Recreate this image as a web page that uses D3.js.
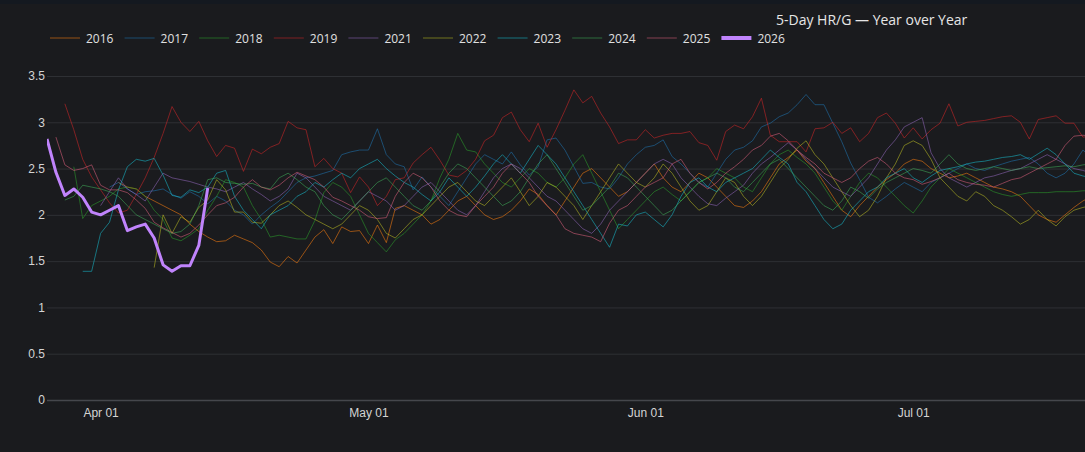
<!DOCTYPE html>
<html><head><meta charset="utf-8">
<script src="https://cdn.jsdelivr.net/npm/d3@7"></script>
<style>
html,body{margin:0;padding:0;background:#1a1b1e;overflow:hidden;}
svg{display:block;font-family:"Open Sans","Noto Sans",sans-serif;}
</style></head>
<body><svg id="chart" width="1085" height="452"></svg>
<script>
// ---- data ----
const years = ["2016","2017","2018","2019","2021","2022","2023","2024","2025","2026"];
const startDates = ["04-03","04-02","03-29","03-28","04-01","04-07","03-30","03-28","03-27","03-26"];
const colors = ["#ff7f0e","#1f77b4","#2ca02c","#d62728","#9467bd","#bcbd22","#17becf","#3fae5a","#e0607e","#c084fc"];
const yTicks = [0,0.5,1,1.5,2,2.5,3,3.5];
const xTickLabels = ["04-01","05-01","06-01","07-01"];

const hr2016 = [2.35,2.30,2.28,2.20,2.15,2.10,2.05,2.00,1.90,1.82,1.76,1.71,1.72,1.78,1.74,1.70,1.62,1.49,1.44,1.55,1.48,1.62,1.76,1.84,1.69,1.87,1.82,1.83,1.69,1.89,1.70,2.07,2.10,2.05,2.00,1.90,1.95,2.05,2.15,2.20,2.10,2.00,1.95,1.98,2.05,2.15,2.28,2.22,2.10,2.00,2.15,2.30,2.45,2.50,2.40,2.30,2.20,2.25,2.35,2.45,2.55,2.40,2.30,2.25,2.35,2.45,2.40,2.30,2.20,2.10,2.08,2.15,2.25,2.40,2.55,2.62,2.70,2.58,2.50,2.35,2.20,2.05,1.98,2.10,2.20,2.30,2.38,2.45,2.55,2.60,2.58,2.50,2.45,2.40,2.42,2.45,2.40,2.35,2.30,2.28,2.25,2.20,2.10,2.00,1.95,1.92,2.00,2.08,2.15,2.20];
const hr2017 = [2.30,2.35,2.28,2.22,2.25,2.26,2.28,2.22,2.18,2.25,2.20,2.12,2.20,2.15,2.05,2.00,1.90,2.00,2.08,2.15,2.25,2.35,2.40,2.42,2.45,2.48,2.65,2.68,2.70,2.70,2.93,2.65,2.55,2.52,2.27,2.41,2.30,2.20,2.10,2.25,2.40,2.55,2.65,2.60,2.55,2.68,2.54,2.43,2.52,2.81,2.83,2.70,2.52,2.34,2.35,2.30,2.28,2.40,2.55,2.65,2.73,2.75,2.81,2.63,2.55,2.45,2.35,2.30,2.45,2.60,2.70,2.73,2.80,2.95,2.99,3.06,3.10,3.19,3.30,3.19,3.19,2.99,2.79,2.56,2.38,2.19,2.13,2.20,2.28,2.35,2.30,2.25,2.35,2.40,2.45,2.50,2.55,2.50,2.48,2.52,2.55,2.58,2.60,2.62,2.55,2.45,2.40,2.45,2.55,2.70,2.62];
const hr2018 = [2.52,1.96,2.10,2.15,2.20,2.28,2.30,2.28,2.20,2.05,1.95,1.75,1.72,1.78,1.85,2.05,2.20,2.38,2.35,2.30,2.10,1.95,1.76,1.78,1.76,1.74,1.74,1.94,2.24,2.35,2.30,2.20,2.00,1.80,1.70,1.60,1.73,1.80,1.90,2.00,2.15,2.40,2.60,2.88,2.70,2.68,2.55,2.45,2.35,2.30,2.40,2.50,2.45,2.35,2.30,2.40,2.55,2.65,2.45,2.25,2.05,1.85,1.95,2.05,2.15,2.25,2.30,2.22,2.15,2.25,2.35,2.40,2.50,2.45,2.40,2.30,2.25,2.40,2.55,2.65,2.70,2.62,2.55,2.45,2.30,2.15,2.05,2.20,2.35,2.45,2.40,2.30,2.20,2.10,2.02,2.15,2.30,2.40,2.50,2.45,2.40,2.35,2.30,2.25,2.22,2.20,2.22,2.24,2.24,2.24,2.25,2.25,2.25,2.26,2.26];
const hr2019 = [3.20,2.92,2.60,2.41,2.27,2.13,2.02,2.05,2.22,2.40,2.62,2.88,3.17,3.00,2.90,3.01,2.80,2.63,2.75,2.72,2.47,2.71,2.66,2.73,2.77,3.01,2.94,2.92,2.52,2.61,2.50,2.45,2.24,2.41,2.30,2.10,2.20,2.38,2.40,2.56,2.65,2.73,2.59,2.43,2.41,2.48,2.60,2.80,2.86,3.05,3.11,2.92,2.79,2.99,2.73,2.92,3.13,3.35,3.21,3.28,3.10,2.95,2.77,2.81,2.81,2.92,2.83,2.86,2.88,2.88,2.90,2.78,2.75,2.59,2.90,2.97,2.93,3.06,3.26,2.86,2.79,2.79,2.79,2.68,2.93,2.94,3.00,2.88,2.94,2.79,2.88,3.05,3.10,2.99,2.83,2.94,2.82,2.92,2.99,3.20,2.96,3.00,3.01,3.02,3.04,3.06,3.07,3.00,2.82,3.03,3.05,3.07,2.99,2.99,2.84,2.85];
const hr2021 = [2.10,2.25,2.40,2.28,2.22,2.15,2.30,2.45,2.40,2.38,2.36,2.33,2.30,2.28,2.25,2.30,2.35,2.28,2.22,2.15,2.20,2.28,2.45,2.40,2.30,2.20,2.15,2.10,2.05,2.15,2.25,2.20,2.15,2.05,2.10,2.20,2.30,2.35,2.25,2.15,2.05,2.00,2.10,2.25,2.40,2.50,2.55,2.50,2.40,2.30,2.20,2.15,2.05,1.95,1.85,1.80,1.90,2.05,2.15,2.25,2.35,2.45,2.55,2.60,2.55,2.40,2.30,2.20,2.12,2.10,2.18,2.25,2.32,2.45,2.55,2.62,2.70,2.78,2.70,2.60,2.50,2.40,2.30,2.25,2.20,2.30,2.40,2.55,2.70,2.81,2.95,3.00,3.05,2.67,2.50,2.40,2.35,2.30,2.35,2.40,2.42,2.45,2.48,2.50,2.55,2.60,2.65,2.60,2.55,2.50,2.48,2.45];
const hr2022 = [1.43,2.00,1.80,1.98,1.92,2.08,2.16,2.38,2.27,2.03,2.03,1.92,1.91,2.00,2.10,2.15,2.08,2.00,1.95,1.90,1.85,1.90,2.00,2.10,2.05,1.95,1.80,1.75,1.85,1.95,2.00,2.10,2.20,2.30,2.35,2.25,2.15,2.10,2.20,2.30,2.40,2.25,2.10,2.20,2.35,2.30,2.20,2.10,1.95,2.10,2.25,2.40,2.55,2.45,2.35,2.30,2.40,2.55,2.45,2.30,2.15,2.05,2.10,2.25,2.40,2.35,2.20,2.10,2.20,2.35,2.50,2.60,2.72,2.80,2.65,2.55,2.40,2.25,2.10,1.98,2.05,2.20,2.40,2.55,2.75,2.80,2.75,2.60,2.40,2.30,2.20,2.15,2.25,2.20,2.10,2.05,1.98,1.90,1.95,2.05,1.95,1.88,1.98,2.05,2.08,2.10];
const hr2023 = [1.39,1.39,1.80,1.92,2.27,2.52,2.60,2.58,2.61,2.43,2.21,2.19,2.27,2.24,2.30,2.45,2.48,2.20,2.05,1.95,1.85,2.00,2.05,2.10,2.20,2.25,2.35,2.30,2.38,2.45,2.40,2.50,2.55,2.60,2.50,2.42,2.35,2.30,2.22,2.15,2.25,2.40,2.30,2.20,2.30,2.42,2.55,2.65,2.55,2.45,2.60,2.75,2.65,2.55,2.40,2.25,2.10,1.95,1.80,1.65,1.90,1.88,2.00,2.03,1.95,1.87,2.00,2.20,2.35,2.40,2.30,2.25,2.35,2.40,2.45,2.50,2.60,2.70,2.62,2.55,2.35,2.25,2.10,1.95,1.85,1.90,2.05,2.15,2.25,2.30,2.40,2.45,2.50,2.40,2.35,2.42,2.48,2.50,2.52,2.55,2.57,2.58,2.60,2.62,2.63,2.65,2.60,2.66,2.72,2.65,2.55,2.45,2.42,2.40];
const hr2024 = [2.16,2.20,2.32,2.30,2.28,2.25,2.20,2.10,2.00,1.95,1.90,1.85,1.80,1.82,1.90,2.10,2.38,2.40,2.35,2.34,2.33,2.34,2.30,2.28,2.40,2.45,2.38,2.30,2.25,2.10,2.00,1.95,2.05,2.15,2.25,2.35,2.40,2.30,2.20,2.10,2.05,2.15,2.30,2.45,2.55,2.50,2.40,2.30,2.20,2.10,2.15,2.25,2.40,2.55,2.65,2.50,2.35,2.20,2.05,2.10,2.20,2.30,2.45,2.40,2.30,2.20,2.10,2.00,2.05,2.15,2.25,2.35,2.40,2.45,2.40,2.30,2.25,2.35,2.45,2.55,2.60,2.50,2.40,2.30,2.20,2.10,2.05,2.15,2.30,2.25,2.18,2.28,2.35,2.40,2.45,2.50,2.48,2.45,2.55,2.65,2.55,2.50,2.48,2.50,2.52,2.50,2.48,2.50,2.52,2.50,2.51,2.52,2.53,2.52,2.54,2.55];
const hr2025 = [2.84,2.54,2.48,2.50,2.54,2.32,2.27,2.27,2.24,2.16,2.07,1.92,1.86,1.81,1.76,1.80,1.89,2.00,2.10,2.13,2.19,2.30,2.38,2.30,2.27,2.32,2.40,2.46,2.42,2.38,2.30,2.19,2.15,2.10,2.05,1.98,1.96,1.97,2.20,2.35,2.45,2.40,2.30,2.15,2.05,2.00,1.98,2.10,2.20,2.30,2.45,2.55,2.45,2.35,2.20,2.10,2.00,1.85,1.80,1.78,1.76,1.71,1.91,2.05,2.10,2.20,2.30,2.35,2.40,2.55,2.60,2.45,2.35,2.28,2.35,2.45,2.52,2.60,2.70,2.75,2.85,2.88,2.80,2.70,2.62,2.55,2.45,2.40,2.35,2.40,2.50,2.58,2.62,2.55,2.45,2.40,2.38,2.33,2.36,2.40,2.45,2.38,2.35,2.33,2.32,2.30,2.34,2.38,2.40,2.45,2.50,2.55,2.60,2.75,2.85,2.86,2.85];
const hr2026 = [2.82,2.46,2.21,2.28,2.19,2.03,2.00,2.05,2.10,1.83,1.87,1.90,1.75,1.46,1.39,1.45,1.45,1.67,2.29];

const seriesValues = [hr2016,hr2017,hr2018,hr2019,hr2021,hr2022,hr2023,hr2024,hr2025,hr2026];

// ---- layout ----
const W = 1085, H = 452;
const plotLeft = 47, plotBottom = 400;
const baseYear = 2026;
const parse = s => new Date(Date.UTC(baseYear, +s.slice(0,2)-1, +s.slice(3,5)));
const dayMs = 86400000;
const x0 = parse("03-26"), x1 = parse("09-28");
const pxPerDay = 8.93;
const plotRight = plotLeft + (x1 - x0)/dayMs * pxPerDay;

const x = d3.scaleUtc().domain([x0, x1]).range([plotLeft, plotRight]);
const y = d3.scaleLinear().domain([0, 3.5]).range([plotBottom, 76]);

const svg = d3.select("#chart");
svg.append("rect").attr("width", W).attr("height", H).attr("fill", "#1a1b1e");
svg.append("rect").attr("width", W).attr("height", 4).attr("fill", "#141920");

svg.append("defs").append("clipPath").attr("id","clip")
  .append("rect").attr("x", plotLeft).attr("y", 0).attr("width", plotRight-plotLeft).attr("height", plotBottom+2);

// grid + y axis
const yAxis = d3.axisLeft(y).tickValues(yTicks).tickSize(-(plotRight-plotLeft)).tickPadding(6)
  .tickFormat(d => d3.format("")(d));
const gy = svg.append("g").attr("transform", `translate(${plotLeft},0)`).call(yAxis);
gy.select(".domain").remove();
gy.selectAll(".tick line").attr("stroke", "#2e3034").attr("stroke-width", 1);
gy.selectAll(".tick").filter(d => d === 0).select("line").attr("stroke", "#45474c").attr("stroke-width", 1.5);
gy.selectAll(".tick text").attr("fill", "#d4d4d4").attr("font-size", 12).attr("x", -2);

// x axis
const xAxis = d3.axisBottom(x).tickValues(xTickLabels.map(parse)).tickSize(0).tickPadding(8)
  .tickFormat(d3.utcFormat("%b %d"));
const gx = svg.append("g").attr("transform", `translate(0,${plotBottom})`).call(xAxis);
gx.select(".domain").remove();
gx.selectAll(".tick text").attr("fill", "#d4d4d4").attr("font-size", 12);

// lines
const line = d3.line().x(d => x(d.date)).y(d => y(d.v));
const gl = svg.append("g").attr("clip-path", "url(#clip)");
years.forEach((yr, i) => {
  const s = parse(startDates[i]);
  const pts = seriesValues[i].map((v, k) => ({date: new Date(+s + k*dayMs), v}));
  const last = i === years.length - 1;
  gl.append("path").datum(pts).attr("d", line).attr("fill", "none")
    .attr("stroke", colors[i])
    .attr("stroke-width", last ? 3 : 1)
    .attr("stroke-opacity", last ? 1 : 0.55)
    .attr("stroke-linejoin", "round");
});

// legend
const lg = svg.append("g");
years.forEach((yr, i) => {
  const lx = 50 + i * 74.6;
  const last = i === years.length - 1;
  lg.append("line").attr("x1", lx).attr("x2", lx + 30).attr("y1", 38).attr("y2", 38)
    .attr("stroke", colors[i]).attr("stroke-width", last ? 4 : 1).attr("stroke-opacity", last ? 1 : 0.55);
  lg.append("text").attr("x", lx + 36).attr("y", 42.5).attr("fill", "#e0e0e0").attr("font-size", 12).text(yr);
});

// title
svg.append("text").attr("x", 776).attr("y", 25).attr("fill", "#e6e6e6").attr("font-size", 14)
  .text("5-Day HR/G — Year over Year");
</script></body></html>
